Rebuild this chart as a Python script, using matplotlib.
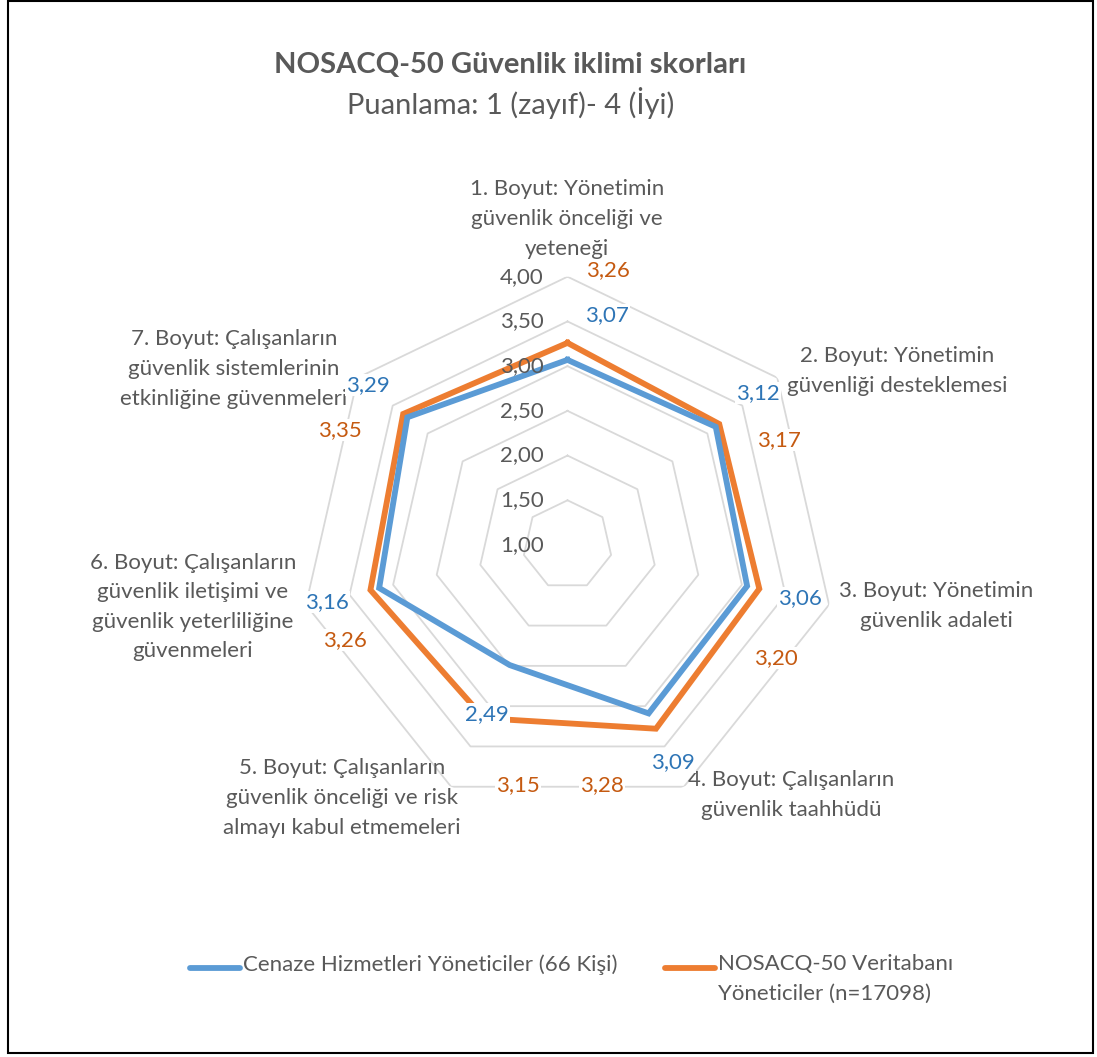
import numpy as np
import matplotlib.pyplot as plt
import matplotlib.transforms as mtransforms
from matplotlib.lines import Line2D
from matplotlib.patches import Rectangle

plt.rcParams['font.family'] = ['Lato', 'DejaVu Sans']

# Veriler
categories = [
    "1. Boyut: Yönetimin\ngüvenlik önceliği ve\nyeteneği",
    "2. Boyut: Yönetimin\ngüvenliği desteklemesi",
    "3. Boyut: Yönetimin\ngüvenlik adaleti",
    "4. Boyut: Çalışanların\ngüvenlik taahhüdü",
    "5. Boyut: Çalışanların\ngüvenlik önceliği ve risk\nalmayı kabul etmemeleri",
    "6. Boyut: Çalışanların\ngüvenlik iletişimi ve\ngüvenlik yeterliliğine\ngüvenmeleri",
    "7. Boyut: Çalışanların\ngüvenlik sistemlerinin\netkinliğine güvenmeleri",
]
cenaze = [3.07, 3.12, 3.06, 3.09, 2.49, 3.16, 3.29]
nosacq = [3.26, 3.17, 3.20, 3.28, 3.15, 3.26, 3.35]
levels = [1.0, 1.5, 2.0, 2.5, 3.0, 3.5, 4.0]
series_names = ["Cenaze Hizmetleri Yöneticiler (66 Kişi)",
                "NOSACQ-50 Veritabanı\nYöneticiler (n=17098)"]

W, H = 1097, 1057
blue, orange = '#5B9BD5', '#ED7D31'
blue_txt, orange_txt = '#2E75B6', '#C55A11'
gray_txt = '#595959'
fs = 16
lsp = 1.6

# etiket yerleri (piksel, Excel'de elle taşınmış gibi)
cat_pos = [(567, 219), (897, 371), (936, 606), (791, 795),
           (342, 798), (193, 607), (234, 369)]
blue_lab_pos = [(607, 315), (758, 393), (800, 598), (673, 762),
                (487, 714), (327, 602), (368, 385)]
orange_lab_pos = [(608, 270), (779, 440), (776, 658), (602, 785),
                  (518, 785), (345, 640), (340, 430)]


def fx(x):
    return x / W


def fy(y):
    return 1 - y / H


def fmt(v):
    return f"{v:.2f}".replace('.', ',')


fig = plt.figure(figsize=(W / 100, H / 100), dpi=100)

cx, cy, R = 567.5, 545, 268.3
ax = fig.add_axes([fx(cx - R), fy(cy + R), 2 * R / W, 2 * R / H], projection='polar')
ax.set_theta_zero_location('N')
ax.set_theta_direction(-1)
ax.set_ylim(levels[0], levels[-1])
ax.grid(False)
ax.spines['polar'].set_visible(False)
ax.set_xticks([])
ax.set_yticks([])
ax.patch.set_alpha(0)

n = len(categories)
theta = np.linspace(0, 2 * np.pi, n, endpoint=False)
theta_c = np.append(theta, theta[0])

# çokgen ızgara
for lv in levels[1:]:
    ax.plot(theta_c, [lv] * (n + 1), color='#D9D9D9', lw=1.3, zorder=1)

ax.plot(theta_c, cenaze + cenaze[:1], color=blue, lw=4.2, zorder=3,
        solid_joinstyle='miter')
ax.plot(theta_c, nosacq + nosacq[:1], color=orange, lw=4.2, zorder=2,
        solid_joinstyle='miter')

# eksen değerleri (dikey eksenin solunda)
shift = mtransforms.ScaledTranslation(-24 / 100, 0, fig.dpi_scale_trans)
for lv in levels:
    ax.text(0, lv, fmt(lv), transform=ax.transData + shift,
            ha='right', va='center', fontsize=fs, color=gray_txt, zorder=4)

# kategori etiketleri
for lab, (x, y) in zip(categories, cat_pos):
    fig.text(fx(x), fy(y), lab, ha='center', va='center', fontsize=fs,
             color=gray_txt, linespacing=lsp)

# veri etiketleri
bb = dict(facecolor='white', edgecolor='none', pad=1)
for v, (x, y) in zip(cenaze, blue_lab_pos):
    fig.text(fx(x), fy(y), fmt(v), ha='center', va='center',
             fontsize=fs, color=blue_txt, bbox=bb, zorder=5)
for v, (x, y) in zip(nosacq, orange_lab_pos):
    fig.text(fx(x), fy(y), fmt(v), ha='center', va='center',
             fontsize=fs, color=orange_txt, bbox=bb, zorder=5)

# başlık
fig.text(fx(510), fy(65), "NOSACQ-50 Güvenlik iklimi skorları", ha='center', va='center',
         fontsize=21, fontweight='bold', color=gray_txt)
fig.text(fx(511), fy(103), "Puanlama: 1 (zayıf)- 4 (İyi)", ha='center', va='center',
         fontsize=21, color=gray_txt)

# lejant
for (x0, x1, col, name) in [(190, 240, blue, series_names[0]),
                            (665, 715, orange, series_names[1])]:
    fig.add_artist(Line2D([fx(x0), fx(x1)], [fy(968), fy(968)], color=col, lw=4.2,
                          solid_capstyle='round'))
    fig.text(fx(x1 + 3), fy(954), name, ha='left', va='top', fontsize=fs,
             color=gray_txt, linespacing=lsp)

# çerçeve
fig.add_artist(Rectangle((fx(8), fy(1053)), fx(1093) - fx(8), fy(1) - fy(1053),
                         transform=fig.transFigure, fill=False, edgecolor='black', lw=1.5))

fig.savefig('out.png', dpi=100)
